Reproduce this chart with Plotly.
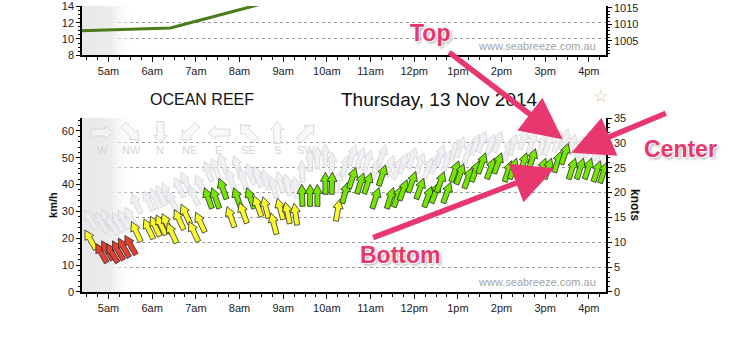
import math
import plotly.graph_objects as go

W, H = 729, 352

# ---------------- data ----------------
hour_labels = ["5am", "6am", "7am", "8am", "9am", "10am", "11am", "12pm", "1pm", "2pm", "3pm", "4pm"]
hour_values = [5, 6, 7, 8, 9, 10, 11, 12, 13, 14, 15, 16]

times = ["04:35", "04:50", "04:58", "05:05", "05:13", "05:21", "05:30", "05:38", "05:55", "06:04",
         "06:12", "06:20", "06:27", "06:37", "06:46", "06:57", "07:06", "07:17", "07:27", "07:37",
         "07:48", "07:57", "08:05", "08:15", "08:25", "08:36", "08:47", "08:56", "09:06", "09:17",
         "09:26", "09:37", "09:47", "09:58", "10:07", "10:15", "10:25", "10:35", "10:46", "10:56",
         "11:07", "11:16", "11:27", "11:37", "11:45", "11:57", "12:08", "12:19", "12:29", "12:36",
         "12:45", "12:56", "13:03", "13:14", "13:24", "13:33", "13:45", "13:55", "14:09", "14:16",
         "14:30", "14:42", "14:56", "15:04", "15:17", "15:27", "15:37", "15:48", "15:59", "16:11",
         "16:20"]
speed_kmh = [19.5, 14.5, 15.5, 14.5, 15.5, 16.5, 17.5, 22.5, 23.5, 24.5,
             25.0, 25.5, 22.0, 27.0, 29.0, 22.5, 26.0, 35.0, 35.0, 38.5,
             28.0, 35.0, 29.5, 35.0, 32.0, 31.5, 25.5, 31.0, 29.5, 29.0,
             36.0, 36.0, 36.0, 40.5, 40.5, 30.5, 37.0, 42.5, 40.5, 40.5,
             35.0, 43.5, 35.0, 35.5, 38.0, 41.0, 38.5, 35.5, 37.0, 41.0,
             37.0, 45.0, 44.0, 42.5, 45.0, 48.0, 46.0, 48.0, 45.0, 46.0,
             48.0, 49.5, 46.0, 46.0, 48.5, 51.5, 46.0, 46.0, 46.0, 45.0,
             44.5]
gust_kmh = [27, 26, 27, 25, 26, 27, 28, 33, 34, 35,
            36, 37, 34, 39, 41, 36, 40, 45, 46, 48,
            42, 47, 42, 44, 43, 42, 39, 41, 40, 39,
            45, 49, 50, 51, 48, 41, 47, 51, 50, 49,
            46, 51, 47, 46, 48, 50, 48, 46, 48, 51,
            49, 53, 54, 52, 55, 56, 55, 56, 53, 55,
            57, 56, 55, 55, 56, 57, 55, 54, 54, 53,
            52]
dir_from_deg = [150, 150, 150, 150, 150, 150, 150, 155, 155, 155,
                155, 155, 155, 155, 155, 155, 155, 160, 160, 160,
                160, 160, 160, 160, 160, 165, 165, 165, 168, 172,
                178, 180, 180, 180, 182, 190, 195, 198, 198, 198,
                198, 198, 198, 200, 200, 200, 200, 200, 200, 200,
                200, 200, 200, 200, 200, 200, 200, 200, 198, 198,
                198, 198, 198, 198, 198, 198, 198, 198, 198, 198,
                198]

temp_times = ["04:00", "06:25", "08:30", "10:00"]
temp_vals = [10.95, 11.35, 14.3, 15.6]

compass_labels = ["W", "NW", "N", "NE", "E", "SE", "S", "SW"]
compass_from_deg = [270, 315, 0, 45, 90, 135, 180, 225]

first_light = "05:35"

callout_labels = ["Top", "Center", "Bottom"]
callout_times = ["15:24", "15:36", "15:13"]
callout_kmh = [56.9, 51.9, 46.1]

site_name = "OCEAN REEF"
date_text = "Thursday, 13 Nov 2014"
watermark = "www.seabreeze.com.au"

# ---------------- helpers ----------------
def to_h(s):
    h, m = s.split(":")
    return int(h) + int(m) / 60.0


def arrow_path(bearing, L=22.0, Wd=10.0, S=5.0, Hd=9.0):
    pts = [(0, L / 2), (Wd / 2, L / 2 - Hd), (S / 2, L / 2 - Hd), (S / 2, -L / 2),
           (-S / 2, -L / 2), (-S / 2, L / 2 - Hd), (-Wd / 2, L / 2 - Hd)]
    b = math.radians(bearing)
    cb, sb = math.cos(b), math.sin(b)
    out = []
    for x, y in pts:
        out.append((x * cb + y * sb, -x * sb + y * cb))
    return "M" + " L".join(f"{x:.2f},{y:.2f}" for x, y in out) + " Z"


def speed_colour(kmh):
    kn = kmh / 1.852
    if kn < 10:
        return "#e3402f"
    if kn < 18:
        return "#fcfb2e"
    return "#74e600"


# ---------------- geometry ----------------
X0, X1 = 82 / W, 606 / W
XR = [4.392, 16.393]
TOP_DOM = [1 - 51 / H, 1.0]
BOT_DOM = [1 - 296 / H, 1 - 116 / H]
KMH_MAX = 35 * 1.852

font_fam = "Liberation Sans, Arial, sans-serif"
tick_font = dict(family=font_fam, size=11, color="#222")

fig = go.Figure()

th = [to_h(t) for t in times]

# dawn shading (both panels)
fl = to_h(first_light)
grad = dict(type="horizontal",
            colorscale=[[0, "rgba(232,232,232,1)"], [0.55, "rgba(236,236,236,1)"], [1, "rgba(255,255,255,0)"]])
fig.add_trace(go.Scatter(x=[XR[0], fl, fl, XR[0], XR[0]], y=[8, 8, 14.05, 14.05, 8], mode="lines",
                         line=dict(width=0), fill="toself", fillgradient=grad, hoverinfo="skip",
                         showlegend=False, xaxis="x", yaxis="y"))
fig.add_trace(go.Scatter(x=[XR[0], fl, fl, XR[0], XR[0]], y=[0, 0, KMH_MAX, KMH_MAX, 0], mode="lines",
                         line=dict(width=0), fill="toself", fillgradient=grad, hoverinfo="skip",
                         showlegend=False, xaxis="x2", yaxis="y3"))

# top panel line
fig.add_trace(go.Scatter(x=[to_h(t) for t in temp_times], y=temp_vals, mode="lines",
                         line=dict(color="#4a7c1c", width=3), showlegend=False, xaxis="x", yaxis="y"))
fig.add_trace(go.Scatter(x=[], y=[], showlegend=False, xaxis="x", yaxis="y2"))
# knots companion (invisible) so right axis is tied to data
fig.add_trace(go.Scatter(x=th, y=[v / 1.852 for v in speed_kmh], mode="markers", marker=dict(opacity=0),
                         hoverinfo="skip", showlegend=False, xaxis="x2", yaxis="y4"))

shapes = []
# gust arrows (grey) first
for t, g, d in zip(th, gust_kmh, dir_from_deg):
    shapes.append(dict(type="path", xref="x2", yref="y3", xsizemode="pixel", ysizemode="pixel",
                       xanchor=t, yanchor=g, path=arrow_path(d + 180),
                       fillcolor="rgba(236,236,240,0.8)", line=dict(color="rgba(205,205,212,0.85)", width=0.8),
                       layer="above"))
# mean wind arrows
for t, v, d in zip(th, speed_kmh, dir_from_deg):
    shapes.append(dict(type="path", xref="x2", yref="y3", xsizemode="pixel", ysizemode="pixel",
                       xanchor=t, yanchor=v, path=arrow_path(d + 180),
                       fillcolor=speed_colour(v), line=dict(color="#2a2a2a", width=0.8),
                       layer="above"))
# compass legend
for i, (lab, d) in enumerate(zip(compass_labels, compass_from_deg)):
    px = 102 + i * 29.2
    shapes.append(dict(type="path", xref="paper", yref="paper", xsizemode="pixel", ysizemode="pixel",
                       xanchor=px / W, yanchor=1 - 131 / H,
                       path=arrow_path(d + 180, L=22, Wd=13, S=7, Hd=8),
                       fillcolor="rgba(245,245,245,0.6)", line=dict(color="#d8d8d8", width=1),
                       layer="above"))

C = dict(xanchor="center", yanchor="middle")

annotations = []
for i, lab in enumerate(compass_labels):
    px = 102 + i * 29.2
    annotations.append(dict(xref="paper", yref="paper", x=px / W, y=1 - 149 / H, text=lab,
                            showarrow=False, font=dict(family=font_fam, size=11, color="#d5d5d5"), **C))

annotations += [
    dict(xref="paper", yref="paper", x=202 / W, y=1 - 97 / H, text=site_name, showarrow=False,
         font=dict(family=font_fam, size=16, color="#111"), **C),
    dict(xref="paper", yref="paper", x=440 / W, y=1 - 97 / H, text=date_text, showarrow=False,
         font=dict(family=font_fam, size=19, color="#111"), **C),
    dict(xref="paper", yref="paper", x=600 / W, y=1 - 93 / H, text="☆", showarrow=False,
         font=dict(family="DejaVu Sans", size=17, color="#dfbf95"), **C),
    dict(xref="paper", yref="paper", x=598 / W, y=1 - 286 / H, text=watermark, showarrow=False,
         xanchor="right", yanchor="middle", font=dict(family=font_fam, size=11, color="#a3a3a3")),
    dict(xref="paper", yref="paper", x=598 / W, y=1 - 41 / H, text=watermark, showarrow=False,
         xanchor="right", yanchor="middle", font=dict(family=font_fam, size=11, color="#a3a3a3")),
    dict(xref="paper", yref="paper", x=53 / W, y=1 - 206 / H, text="<b>km/h</b>", showarrow=False,
         textangle=-90, font=dict(family=font_fam, size=11, color="#111"), **C),
    dict(xref="paper", yref="paper", x=635 / W, y=1 - 206 / H, text="<b>knots</b>", showarrow=False,
         textangle=90, font=dict(family=font_fam, size=12, color="#111"), **C),
]

pink = "#e8376f"
label_pos = [(430, 28), (680, 148), (400, 258)]
tail_pos = [(448, 50), (668, 112), (372, 238)]
tip_px = [(563, 138), (572, 152), (555, 168)]
for lab, t, v, (lx, ly), (tx, ty), (px, py) in zip(callout_labels, callout_times, callout_kmh,
                                                  label_pos, tail_pos, tip_px):
    annotations.append(dict(xref="x2", yref="y3", x=to_h(t), y=v, text="", showarrow=True,
                            ax=tx - px, ay=ty - py, arrowcolor=pink, arrowwidth=5.5,
                            arrowhead=2, arrowsize=1.5))
    annotations.append(dict(xref="paper", yref="paper", x=lx / W, y=1 - ly / H, text=f"<b>{lab}</b>",
                            showarrow=False,
                            font=dict(family=font_fam, size=23, color=pink,
                                      shadow="1px 1px 0px #fff, -1px -1px 0px #fff, 2px 2px 3px rgba(0,0,0,0.35)"),
                            **C))

xaxis_common = dict(range=XR, domain=[X0, X1], tickvals=hour_values, ticktext=hour_labels,
                    ticks="outside", ticklen=5, tickcolor="#000", showline=True, linecolor="#000",
                    linewidth=1.5, showgrid=False, zeroline=False, tickfont=tick_font,
                    minor=dict(dtick=0.25, tick0=0, ticks="outside", ticklen=3, tickcolor="#000"),
                    fixedrange=True)
yaxis_common = dict(ticks="outside", ticklen=4, tickcolor="#000", showline=True, linecolor="#000",
                    linewidth=1.5, zeroline=False, tickfont=tick_font)

fig.update_layout(
    width=W, height=H, margin=dict(l=0, r=0, t=0, b=0),
    paper_bgcolor="white", plot_bgcolor="white", showlegend=False,
    xaxis=dict(anchor="y", **xaxis_common),
    yaxis=dict(domain=TOP_DOM, anchor="x", range=[8, 14.05], dtick=2, showgrid=True, gridcolor="#9a9a9a",
               griddash="dot", gridwidth=1, minor=dict(dtick=0.5, ticks="outside", ticklen=2, tickcolor="#000"),
               **yaxis_common),
    yaxis2=dict(overlaying="y", side="right", anchor="x", range=[1000.6, 1015.6],
                tickvals=[1005, 1010, 1015], showgrid=False,
                minor=dict(dtick=1, ticks="outside", ticklen=2, tickcolor="#000"), **yaxis_common),
    xaxis2=dict(anchor="y3", **xaxis_common),
    yaxis3=dict(domain=BOT_DOM, anchor="x2", range=[0, KMH_MAX], dtick=10, showgrid=False,
                minor=dict(dtick=2, ticks="outside", ticklen=2, tickcolor="#000"), **yaxis_common),
    yaxis4=dict(overlaying="y3", side="right", anchor="x2", range=[0, 35], dtick=5, showgrid=True,
                gridcolor="#9a9a9a", griddash="dot", gridwidth=1,
                minor=dict(dtick=1, ticks="outside", ticklen=2, tickcolor="#000"), **yaxis_common),
    shapes=shapes,
    annotations=annotations,
)

fig.write_html("out.html")
